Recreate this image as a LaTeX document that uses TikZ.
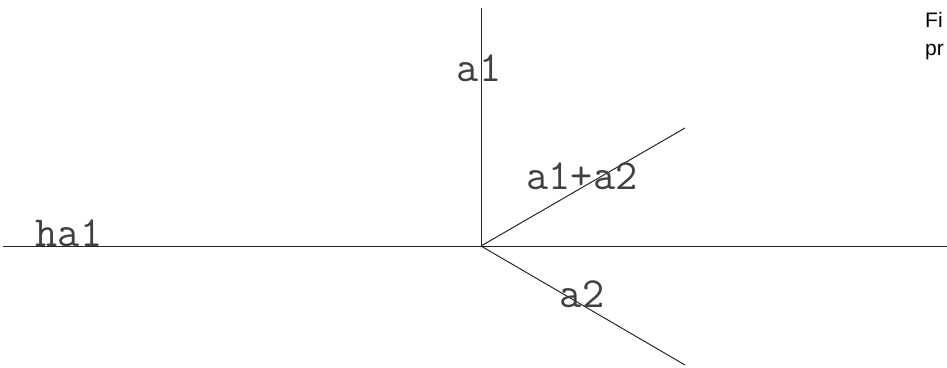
\documentclass[tikz,border=0pt]{standalone}
\usepackage{fontspec}
\newfontfamily\notefont{Liberation Sans}
\usetikzlibrary{positioning}
\tikzset{
    axisline/.style={line width=1pt, draw=black!85},
    veclabel/.style={font=\fontsize{43}{43}\selectfont\ttfamily, inner sep=0pt, text=black!75},
    notetext/.style={font=\fontsize{21}{28}\selectfont\notefont, align=left, anchor=north west, inner sep=0pt}
}
\begin{document}
\begin{tikzpicture}[x=1pt, y=-1pt]

    % 0. Marco (pixeles de la figura)
    \useasboundingbox (0,0) rectangle (947,367);

    % 1. Puntos de los vectores
    \coordinate (origen) at (481,246);
    \coordinate (ejeizq) at (3,246);
    \coordinate (ejeder) at (947,246);
    \coordinate (puntaa1) at (481,8);
    \coordinate (puntasuma) at (685,128);
    \coordinate (puntaa2) at (685,365);

    % 2. Lineas
    \draw[axisline] (ejeizq) -- (ejeder);
    \draw[axisline] (origen) -- (puntaa1);
    \draw[axisline] (origen) -- (puntasuma);
    \draw[axisline] (origen) -- (puntaa2);

    % 3. Etiquetas
    \node[veclabel] (lbla1) at (479,68) {a1};
    \node[veclabel] (lblsuma) at (582,176) {a1+a2};
    \node[veclabel, anchor=base] (lblha1) at (69,246) {ha1};
    \node[veclabel] (lbla2) at (582,294) {a2};

    % 4. Texto cortado arriba a la derecha
    \node[notetext] (nota) at (925,12) {Fi\\pr};

\end{tikzpicture}
\end{document}
